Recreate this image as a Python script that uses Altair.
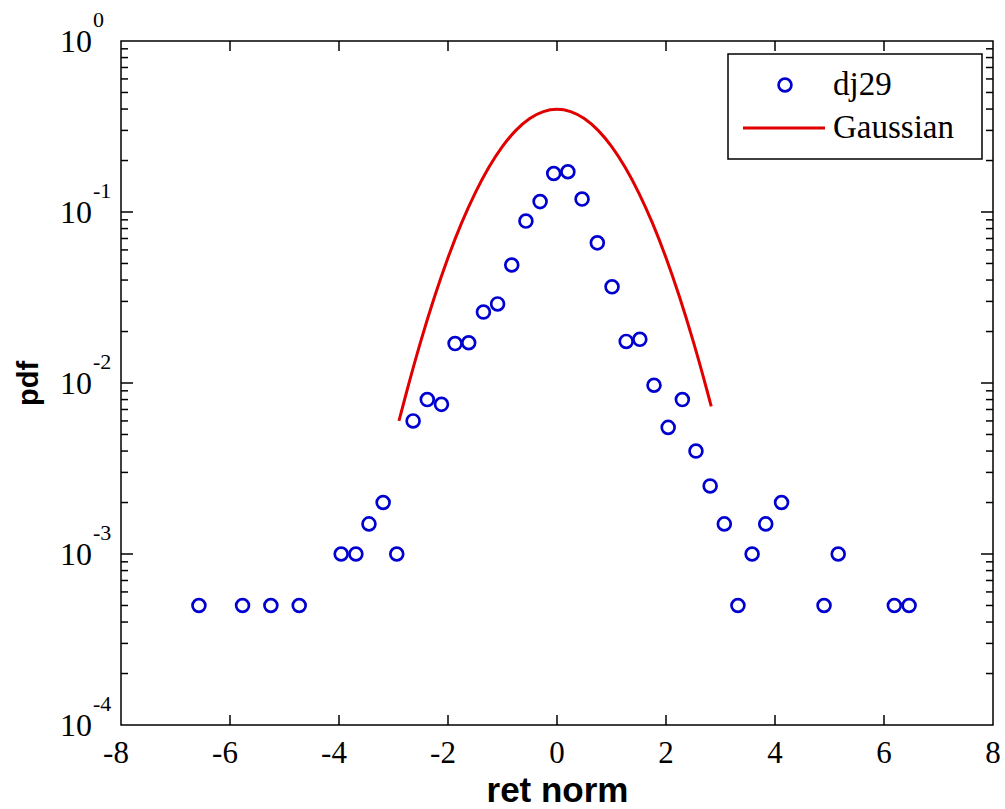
import altair as alt
import pandas as pd

# Empirical pdf of normalised returns (dj29)
ret_x = [-6.57, -5.77, -5.25, -4.73, -3.96, -3.69, -3.45, -3.19, -2.94, -2.64,
         -2.38, -2.12, -1.87, -1.62, -1.35, -1.09, -0.83, -0.57, -0.31, -0.06,
         0.20, 0.46, 0.74, 1.01, 1.27, 1.52, 1.78, 2.04, 2.30, 2.55,
         2.81, 3.07, 3.32, 3.58, 3.83, 4.12, 4.90, 5.16, 6.19, 6.46]
ret_pdf = [5e-4, 5e-4, 5e-4, 5e-4, 1e-3, 1e-3, 1.5e-3, 2e-3, 1e-3, 6e-3,
           8e-3, 7.5e-3, 1.7e-2, 1.72e-2, 2.6e-2, 2.9e-2, 4.9e-2, 8.85e-2, 0.115, 0.168,
           0.172, 0.119, 0.066, 0.0365, 0.0175, 0.018, 0.0097, 0.0055, 0.008, 0.004,
           0.0025, 0.0015, 5e-4, 1e-3, 1.5e-3, 2e-3, 5e-4, 1e-3, 5e-4, 5e-4]

# Reference Gaussian curve
gauss_x = [-2.9, -2.75, -2.5, -2.25, -2.0, -1.75, -1.5, -1.25, -1.0, -0.75, -0.5, -0.25, 0.0,
           0.25, 0.5, 0.75, 1.0, 1.25, 1.5, 1.75, 2.0, 2.25, 2.5, 2.75, 2.83]
gauss_pdf = [0.0060, 0.0091, 0.0175, 0.0317, 0.054, 0.0863, 0.1295, 0.1826, 0.242, 0.3011,
             0.3521, 0.3867, 0.3989, 0.3867, 0.3521, 0.3011, 0.242, 0.1826, 0.1295, 0.0863,
             0.054, 0.0317, 0.0175, 0.0091, 0.0073]

# Axis ticks and labels
x_ticks = [-8, -6, -4, -2, 0, 2, 4, 6, 8]
y_decades = [1.0, 0.1, 0.01, 0.001, 0.0001]
y_exponents = ["0", "-1", "-2", "-3", "-4"]
y_minor = [m * d for d in [1e-4, 1e-3, 1e-2, 1e-1] for m in range(2, 10)]

legend_labels = ["dj29", "Gaussian"]

W, H = 872, 684
BLUE = "#0000d0"
RED = "#e00000"
SERIF = "Liberation Serif"
SANS = "Liberation Sans"

pts = pd.DataFrame({"x": ret_x, "y": ret_pdf})
curve = pd.DataFrame({"x": gauss_x, "y": gauss_pdf})

xs = alt.Scale(domain=[-8, 8], nice=False, zero=False)
ys = alt.Scale(type="log", domain=[1e-4, 1], nice=False)

x_axis = alt.Axis(domain=False, ticks=False, labels=False, grid=False,
                  title="ret norm", titleFont=SANS, titleFontWeight="bold",
                  titleFontSize=35, titleColor="black", titleY=76,
                  titleBaseline="alphabetic")
y_axis = alt.Axis(domain=False, ticks=False, labels=False, grid=False,
                  title="pdf", titleFont=SANS, titleFontWeight="bold",
                  titleFontSize=29, titleColor="black", titleX=-84,
                  titleBaseline="alphabetic")

line = alt.Chart(curve).mark_line(color=RED, strokeWidth=3, interpolate="monotone").encode(
    x=alt.X("x:Q", scale=xs, axis=x_axis),
    y=alt.Y("y:Q", scale=ys, axis=y_axis),
)

points = alt.Chart(pts).mark_point(shape="circle", filled=False, color=BLUE,
                                   strokeWidth=2.7, size=165, opacity=1).encode(
    x=alt.X("x:Q", scale=xs),
    y=alt.Y("y:Q", scale=ys),
)

# Inward ticks on all four sides
xt = pd.DataFrame({"v": x_ticks[1:-1]})
x_tick_bottom = alt.Chart(xt).mark_rule(color="black", strokeWidth=1.5).encode(
    x=alt.X("v:Q", scale=xs), y=alt.value(H), y2=alt.value(H - 10))
x_tick_top = alt.Chart(xt).mark_rule(color="black", strokeWidth=1.5).encode(
    x=alt.X("v:Q", scale=xs), y=alt.value(0), y2=alt.value(10))

ymaj = pd.DataFrame({"v": y_decades[1:-1]})
ymin = pd.DataFrame({"v": y_minor})
y_tick_layers = []
for df, ln in [(ymaj, 12), (ymin, 7)]:
    y_tick_layers.append(alt.Chart(df).mark_rule(color="black", strokeWidth=1.5).encode(
        y=alt.Y("v:Q", scale=ys), x=alt.value(0), x2=alt.value(ln)))
    y_tick_layers.append(alt.Chart(df).mark_rule(color="black", strokeWidth=1.5).encode(
        y=alt.Y("v:Q", scale=ys), x=alt.value(W - ln), x2=alt.value(W)))

# Tick labels
xl = pd.DataFrame({"v": x_ticks, "t": [str(v) for v in x_ticks]})
x_lab_neg = alt.Chart(xl[xl.v < 0]).mark_text(font=SERIF, fontSize=31, color="black",
                                              align="center", baseline="alphabetic", dx=-5).encode(
    x=alt.X("v:Q", scale=xs), y=alt.value(H + 38), text="t:N")
x_lab_pos = alt.Chart(xl[xl.v >= 0]).mark_text(font=SERIF, fontSize=31, color="black",
                                               align="center", baseline="alphabetic").encode(
    x=alt.X("v:Q", scale=xs), y=alt.value(H + 38), text="t:N")

yl = pd.DataFrame({"v": y_decades, "e": y_exponents, "b": ["10"] * len(y_decades)})
y_lab_base = alt.Chart(yl).mark_text(font=SERIF, fontSize=32, color="black",
                                     align="right", baseline="alphabetic", dy=11).encode(
    y=alt.Y("v:Q", scale=ys), x=alt.value(-29), text="b:N")
y_lab_exp = alt.Chart(yl).mark_text(font=SERIF, fontSize=22, color="black",
                                    align="left", baseline="alphabetic", dy=-14).encode(
    y=alt.Y("v:Q", scale=ys), x=alt.value(-28), text="e:N")

# Legend
leg = pd.DataFrame({"label": legend_labels})
leg_box = alt.Chart(leg.head(1)).mark_rect(fill="white", stroke="black", strokeWidth=1.5).encode(
    x=alt.value(607), x2=alt.value(861), y=alt.value(13), y2=alt.value(118))
leg_pt = alt.Chart(leg.head(1)).mark_point(shape="circle", filled=False, color=BLUE,
                                           strokeWidth=2.7, size=165, opacity=1).encode(
    x=alt.value(664), y=alt.value(44))
leg_line = alt.Chart(leg.head(1)).mark_rule(color=RED, strokeWidth=3).encode(
    x=alt.value(622), x2=alt.value(704), y=alt.value(87))
leg_text1 = alt.Chart(leg.iloc[[0]]).mark_text(font=SERIF, fontSize=33, color="black",
                                               align="left", baseline="middle").encode(
    x=alt.value(712), y=alt.value(44), text="label:N")
leg_text2 = alt.Chart(leg.iloc[[1]]).mark_text(font=SERIF, fontSize=33, color="black",
                                               align="left", baseline="middle").encode(
    x=alt.value(712), y=alt.value(87), text="label:N")

chart = alt.layer(
    points, line, x_tick_bottom, x_tick_top, *y_tick_layers,
    x_lab_neg, x_lab_pos, y_lab_base, y_lab_exp,
    leg_box, leg_pt, leg_line, leg_text1, leg_text2,
).properties(
    width=W, height=H,
    autosize=alt.AutoSizeParams(type="none"),
    padding={"left": 121, "top": 41, "right": 12, "bottom": 84},
    background="white",
).configure_view(
    stroke="black", strokeWidth=1.5
)

chart.save("out.html", embed_options={"renderer": "svg", "actions": False})
